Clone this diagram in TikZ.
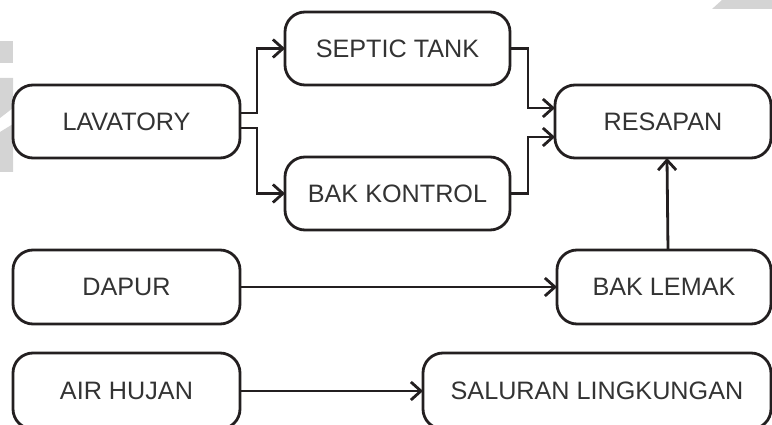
\documentclass[tikz,border=0pt]{standalone}
\usepackage{fontspec}
\setmainfont{Liberation Sans}
\usetikzlibrary{arrows.meta}
\definecolor{ln}{HTML}{231F20}
\definecolor{tx}{HTML}{333333}
\definecolor{wm}{HTML}{D4D4D4}
\tikzset{
  box/.style={draw=ln, line width=2.8pt, rounded corners=20pt, minimum height=73pt,
    inner sep=0pt, outer sep=0pt, text=tx, font=\fontsize{25.2}{28}\selectfont},
  wide/.style={minimum width=227pt},
  conn/.style={draw=ln, line width=2.8pt, -{Straight Barb[length=10pt,width=18pt,line width=2.8pt]}},
  plain/.style={draw=ln, line width=2.8pt}
}
\begin{document}
\begin{tikzpicture}[x=1pt,y=-1pt]
\useasboundingbox (0,0) rectangle (772,425);
% faint watermark shapes
\fill[wm] (0,41) rectangle (13,63);
\fill[wm] (0,78) -- (13,78) -- (13,108) -- (0,118) -- cycle;
\fill[wm] (0,132) -- (13,124) -- (13,172) -- (0,172) -- cycle;
\fill[wm] (722,0) -- (772,0) -- (772,9) -- (712,9) -- cycle;
% nodes
\node[box, wide] (lav) at (126.5,121.5) {LAVATORY};
\node[box, minimum width=225pt] (sep) at (397.5,48.5) {SEPTIC TANK};
\node[box, minimum width=225pt] (bak) at (397.5,193.5) {BAK KONTROL};
\node[box, minimum width=216pt] (res) at (663,121.5) {RESAPAN};
\node[box, wide, minimum height=74pt] (dap) at (126.5,287) {DAPUR};
\node[box, minimum width=214pt, minimum height=74pt] (lem) at (664,287) {BAK LEMAK};
\node[box, wide, minimum height=76pt] (air) at (126.5,391) {AIR HUJAN};
\node[box, minimum width=348pt, minimum height=76pt] (sal) at (597,391) {SALURAN LINGKUNGAN};
% connector points
\coordinate (j1) at (257,0);
\coordinate (j2) at (528,0);
\coordinate (lavA) at ([yshift=8.5pt]lav.east);
\coordinate (lavB) at ([yshift=-6.5pt]lav.east);
\coordinate (resA) at ([yshift=13.5pt]res.west);
\coordinate (resB) at ([yshift=-15.5pt]res.west);
\coordinate (lemN) at ([xshift=4pt]lem.north);
\coordinate (resS) at ([xshift=4pt]res.south);
% connectors
\draw[conn] (lavA) -| (j1 |- sep.west) -- (sep.west);
\draw[conn] (lavB) -| (j1 |- bak.west) -- (bak.west);
\draw[conn] (sep.east) -| (j2 |- resA) -- (resA);
\draw[conn] (bak.east) -| (j2 |- resB) -- (resB);
\draw[conn] (dap) -- (lem);
\draw[conn] (lemN) -- (resS);
\draw[conn] (air) -- (sal);
\end{tikzpicture}
\end{document}
